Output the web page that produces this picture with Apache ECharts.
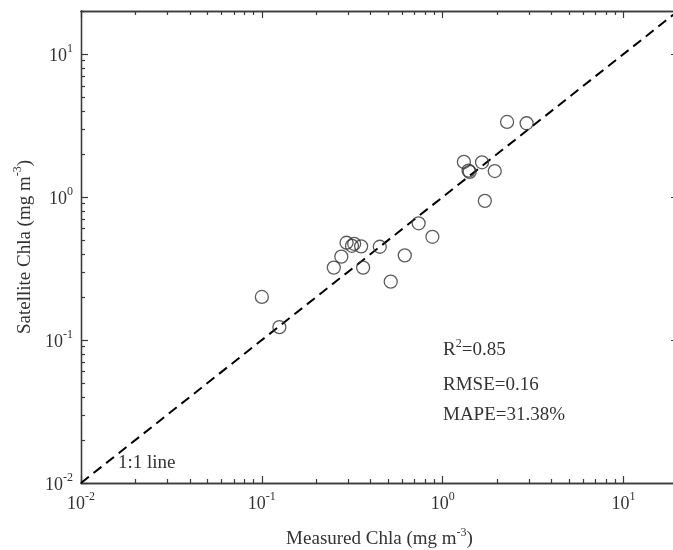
<!DOCTYPE html>
<html><head><meta charset="utf-8">
<script src="https://cdn.jsdelivr.net/npm/echarts@6/dist/echarts.min.js"></script>
<style>html,body{margin:0;padding:0;background:#fff}#c{width:673px;height:550px}</style>
</head><body><div id="c"></div>
<script>
// Measured vs satellite Chla (mg m^-3)
const measured = [0.10,0.125,0.25,0.275,0.294,0.315,0.324,0.354,0.363,0.449,0.516,0.617,0.736,0.877,2.27,2.91,1.31,1.39,1.41,1.65,1.94,1.71];
const satellite = [0.20,0.123,0.321,0.383,0.479,0.456,0.471,0.452,0.321,0.449,0.256,0.391,0.655,0.527,3.35,3.28,1.76,1.53,1.50,1.75,1.52,0.94];
const oneToOne = [0.01, 20];
const majorTicks = [0.01, 0.1, 1, 10];
const minorTicks = [0.02,0.03,0.04,0.05,0.06,0.07,0.08,0.09,0.2,0.3,0.4,0.5,0.6,0.7,0.8,0.9,2,3,4,5,6,7,8,9,20];
const stats = ['{n|R}{s|2}{n|=0.85}', 'RMSE=0.16', 'MAPE=31.38%'];
const lineLabel = '1:1 line';
const axisMin = 0.01, axisMax = 20;

const FONT = '"Liberation Serif","Times New Roman",serif';
const TXT = '#333';
const AX = '#3a3a3a';
const expLabel = v => { const e = Math.round(Math.log10(v)); return '{b|10}{s|' + e + '}'; };
const supStyle = (k) => ({fontSize: 12, fontFamily: FONT, [k]: TXT, verticalAlign: 'top', padding: [0, 0, 10, 0]});
const richLbl = { b: {fontSize: 18, fontFamily: FONT, color: TXT, verticalAlign: 'bottom'}, s: supStyle('color') };
const richName = { n: {fontSize: 19, fontFamily: FONT, color: TXT, verticalAlign: 'bottom'}, s: supStyle('color') };

function mkAxis(pos, major, show) {
  return {
    type: 'log', logBase: 10, min: axisMin, max: axisMax, position: pos,
    axisLine: {show: true, lineStyle: {color: AX, width: 1.3}},
    axisTick: {show: true, inside: true, length: major ? 7 : 4, lineStyle: {color: AX, width: 1.2}, customValues: major ? majorTicks : minorTicks},
    axisLabel: {show: show, customValues: majorTicks, formatter: expLabel, rich: richLbl, margin: 8},
    splitLine: {show: false}, minorTick: {show: false}
  };
}
const xAxes = [mkAxis('bottom', true, true), mkAxis('bottom', false, false), mkAxis('top', true, false), mkAxis('top', false, false)];
const yAxes = [mkAxis('left', true, true), mkAxis('left', false, false), mkAxis('right', true, false), mkAxis('right', false, false)];
xAxes[0].name = '{n|Measured Chla (mg m}{s|-3}{n|)}';
xAxes[0].nameLocation = 'middle'; xAxes[0].nameGap = 44;
xAxes[0].nameTextStyle = {fontSize: 19, fontFamily: FONT, color: TXT, rich: richName};
yAxes[0].name = '{n|Satellite Chla (mg m}{s|-3}{n|)}';
yAxes[0].nameLocation = 'middle'; yAxes[0].nameGap = 46;
yAxes[0].nameTextStyle = {fontSize: 19, fontFamily: FONT, color: TXT, rich: richName};

const chart = echarts.init(document.getElementById('c'), null, {renderer: 'canvas'});
chart.setOption({
  backgroundColor: '#fff',
  animation: false,
  textStyle: {fontFamily: FONT},
  grid: {left: 81, top: 11, width: 597, height: 472, containLabel: false, outerBoundsMode: 'none'},
  xAxis: xAxes,
  yAxis: yAxes,
  series: [
    {type: 'line', xAxisIndex: 0, yAxisIndex: 0, data: oneToOne.map(v => [v, v]), showSymbol: false, symbol: 'none',
     lineStyle: {color: '#000', width: 2, type: [10, 6]}, silent: true, z: 2},
    {type: 'scatter', xAxisIndex: 0, yAxisIndex: 0, data: measured.map((m, i) => [m, satellite[i]]),
     symbol: 'circle', symbolSize: 13, itemStyle: {color: 'rgba(255,255,255,0)', borderColor: '#333', borderWidth: 1.3}, z: 3}
  ],
  graphic: [
    {type: 'text', left: 443, top: 338, style: {text: stats[0], fontSize: 19, fontFamily: FONT, fill: TXT,
      rich: {n: {fontSize: 19, fontFamily: FONT, fill: TXT, verticalAlign: 'bottom'}, s: supStyle('fill')}}},
    {type: 'text', left: 443, top: 376, style: {text: stats[1], fontSize: 19, fontFamily: FONT, fill: TXT}},
    {type: 'text', left: 443, top: 406, style: {text: stats[2], fontSize: 19, fontFamily: FONT, fill: TXT}},
    {type: 'text', left: 118, top: 454, style: {text: lineLabel, fontSize: 19, fontFamily: FONT, fill: TXT}}
  ]
});
</script></body></html>
